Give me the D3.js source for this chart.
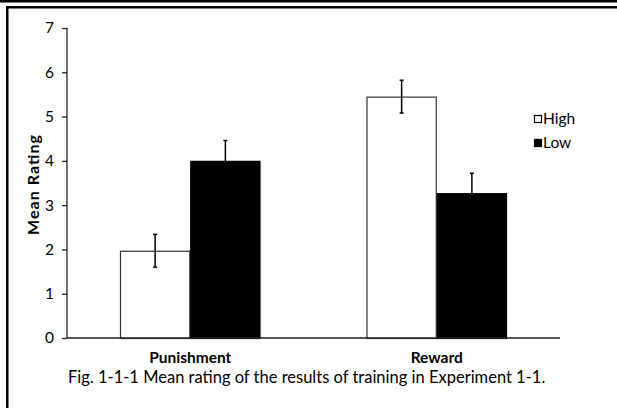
<!DOCTYPE html>
<html>
<head>
<meta charset="utf-8">
<script src="https://cdn.jsdelivr.net/npm/d3@7"></script>
<style>
  body { margin: 0; background: #fff; }
  svg { display: block; font-family: Lato, "Open Sans", sans-serif; }
</style>
</head>
<body>
<svg id="chart" width="617" height="408"></svg>
<script>
// data
var categories = ['Punishment', 'Reward']
var series = ['High', 'Low']
var highValues = [1.97, 5.45]
var highErrors = [0.37, 0.37]
var lowValues = [4.0, 3.27]
var lowErrors = [0.46, 0.45]
var yTicks = [0, 1, 2, 3, 4, 5, 6, 7]
var caption = 'Fig. 1-1-1 Mean rating of the results of training in Experiment 1-1.'

var svg = d3.select('#chart')

// page frame: rule at the top, box line below it, left edge
svg.append('rect').attr('x', 0).attr('y', 0).attr('width', 617).attr('height', 2.5).attr('fill', '#000')
svg.append('rect').attr('x', 6).attr('y', 6).attr('width', 611).attr('height', 2.5).attr('fill', '#000')
svg.append('rect').attr('x', 6).attr('y', 6).attr('width', 2.5).attr('height', 402).attr('fill', '#000')

var plotLeft = 67, plotRight = 560, plotTop = 28, plotBottom = 338

var x0 = d3.scaleBand().domain(categories).range([plotLeft, plotRight]).paddingInner(0.43).paddingOuter(0.215)
var x1 = d3.scaleBand().domain(series).range([0, x0.bandwidth()])
var y = d3.scaleLinear().domain([0, 7]).range([plotBottom, plotTop])

var rows = categories.map(function(c, i) {
  return [
    { cat: c, s: 'High', v: highValues[i], e: highErrors[i] },
    { cat: c, s: 'Low', v: lowValues[i], e: lowErrors[i] }
  ]
})

var groups = svg.append('g').selectAll('g').data(rows).enter().append('g')
  .attr('transform', function(d, i) { return 'translate(' + x0(categories[i]) + ',0)' })

groups.selectAll('rect').data(function(d) { return d }).enter().append('rect')
  .attr('x', function(d) { return x1(d.s) + 0.5 })
  .attr('y', function(d) { return y(d.v) + 0.5 })
  .attr('width', x1.bandwidth() - 1)
  .attr('height', function(d) { return y(0) - y(d.v) })
  .attr('fill', function(d) { return d.s === 'High' ? '#fff' : '#000' })
  .attr('stroke', function(d) { return d.s === 'High' ? '#333' : '#000' })
  .attr('stroke-width', 1.2)

// error bars (black, so the lower half vanishes inside black bars)
var eb = groups.selectAll('g.err').data(function(d) { return d }).enter().append('g').attr('class', 'err')
  .attr('stroke', '#000').attr('stroke-width', 1.5)
eb.append('line')
  .attr('x1', function(d) { return x1(d.s) + x1.bandwidth() / 2 })
  .attr('x2', function(d) { return x1(d.s) + x1.bandwidth() / 2 })
  .attr('y1', function(d) { return y(d.v + d.e) })
  .attr('y2', function(d) { return y(d.v - d.e) })
eb.selectAll('line.cap').data(function(d) { return [d.v + d.e, d.v - d.e].map(function(v) { return { s: d.s, v: v } }) })
  .enter().append('line').attr('class', 'cap')
  .attr('x1', function(d) { return x1(d.s) + x1.bandwidth() / 2 - 2 })
  .attr('x2', function(d) { return x1(d.s) + x1.bandwidth() / 2 + 2 })
  .attr('y1', function(d) { return y(d.v) })
  .attr('y2', function(d) { return y(d.v) })

// y axis
var yAxis = svg.append('g').attr('transform', 'translate(' + plotLeft + ',0)')
  .call(d3.axisLeft(y).tickValues(yTicks).tickSize(5).tickPadding(8).tickFormat(d3.format('d')))
yAxis.select('.domain').attr('stroke', '#222').attr('stroke-width', 1.3).attr('d', 'M0,' + plotTop + 'V' + plotBottom)
yAxis.selectAll('.tick line').attr('stroke', '#222').attr('stroke-width', 1.3)
yAxis.selectAll('.tick text').attr('font-size', 15.5).attr('fill', '#000').attr('font-family', 'Lato, sans-serif')

// x axis baseline and labels
var xAxis = svg.append('g').attr('transform', 'translate(0,' + plotBottom + ')')
  .call(d3.axisBottom(x0).tickSize(0).tickPadding(14))
xAxis.select('.domain').attr('stroke', '#222').attr('stroke-width', 1.5).attr('d', 'M' + plotLeft + ',0H' + plotRight)
xAxis.selectAll('.tick text').attr('font-size', 15.5).attr('font-weight', 'bold').attr('fill', '#000')
  .attr('font-family', 'Lato, sans-serif')

// axis title
svg.append('text')
  .attr('transform', 'translate(39,' + ((plotTop + plotBottom) / 2 + 2) + ') rotate(-90)')
  .attr('text-anchor', 'middle')
  .attr('font-size', 16).attr('font-weight', 'bold')
  .attr('textLength', 100).attr('lengthAdjust', 'spacing')
  .text('Mean Rating')

// legend
var legend = svg.append('g').selectAll('g').data(series).enter().append('g')
  .attr('transform', function(d, i) { return 'translate(534,' + (115 + i * 24) + ')' })
legend.append('rect').attr('x', 0.5).attr('y', 0.5).attr('width', 7).attr('height', 7)
  .attr('fill', function(d) { return d === 'High' ? '#fff' : '#000' })
  .attr('stroke', '#000').attr('stroke-width', 1.2)
legend.append('text').attr('x', 9).attr('y', 9).attr('font-size', 15.5).text(function(d) { return d })

// caption
svg.append('text').attr('x', 68).attr('y', 383).attr('font-size', 16.5).text(caption)
</script>
</body>
</html>
